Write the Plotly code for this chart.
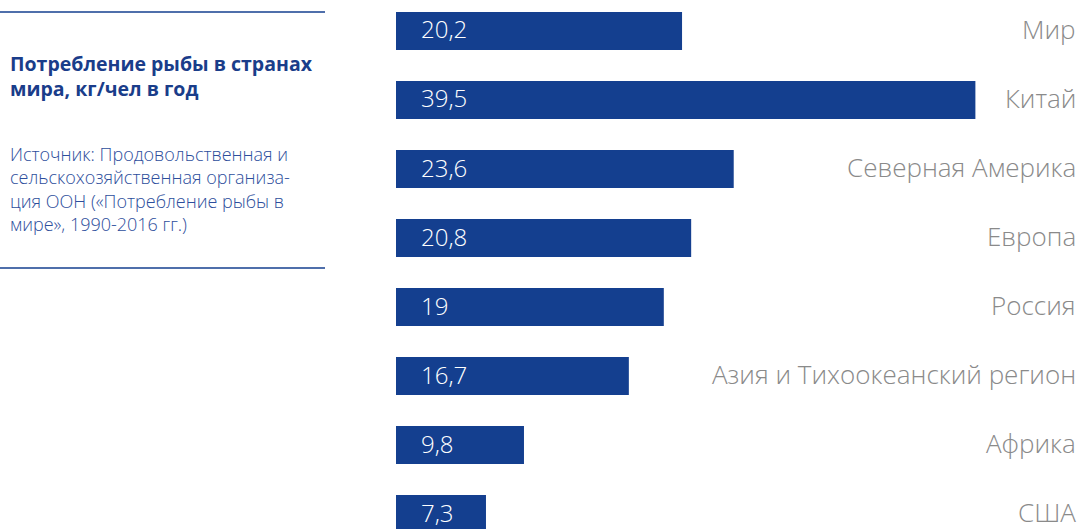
import plotly.graph_objects as go

categories = ["Мир", "Китай", "Северная Америка", "Европа", "Россия",
              "Азия и Тихоокеанский регион", "Африка", "США"]
values = [20.2, 39.5, 23.6, 20.8, 19, 16.7, 9.8, 7.3]
value_labels = ["20,2", "39,5", "23,6", "20,8", "19", "16,7", "9,8", "7,3"]

title_text = "Потребление рыбы в странах<br>мира, кг/чел в год"
source_text = ("Источник: Продовольственная и<br>сельскохозяйственная организа-<br>"
               "ция ООН («Потребление рыбы в<br>мире», 1990-2016 гг.)")

W, H = 1083, 529
BLUE = "#143f8f"
GRAY = "#8a8a8a"
FONT = "Open Sans"

fig = go.Figure()
fig.add_trace(go.Bar(
    x=values, y=categories, orientation="h",
    marker=dict(color=BLUE, line=dict(width=0)),
    width=0.55, hoverinfo="skip",
))

x0 = 396 / W
fig.update_layout(
    width=W, height=H,
    margin=dict(l=0, r=0, t=0, b=0),
    paper_bgcolor="white", plot_bgcolor="white",
    showlegend=False,
    xaxis=dict(domain=[x0, 1], range=[1.38, 46.58], visible=False, fixedrange=True),
    yaxis=dict(domain=[0, 1], type="category", categoryorder="array",
               categoryarray=categories, range=[7.217, -0.449],
               visible=False, fixedrange=True),
    font=dict(family=FONT),
)

anns = []
for c, lab in zip(categories, value_labels):
    anns.append(dict(x=419 / W, xref="paper", y=c, yref="y", text=lab,
                     showarrow=False, xanchor="left", yanchor="middle", yshift=2,
                     font=dict(family=FONT, size=24, color="white", weight=300)))
    anns.append(dict(x=1078 / W, xref="paper", y=c, yref="y", text=c,
                     showarrow=False, xanchor="right", yanchor="middle", yshift=2,
                     font=dict(family=FONT, size=26, color=GRAY, weight=300)))

anns.append(dict(x=8 / W, xref="paper", y=1 - 48 / H, yref="paper", text=title_text,
                 showarrow=False, xanchor="left", yanchor="top", align="left",
                 font=dict(family=FONT, size=19.5, color="#1a3d8a", weight="bold")))
anns.append(dict(x=8 / W, xref="paper", y=1 - 140 / H, yref="paper", text=source_text,
                 showarrow=False, xanchor="left", yanchor="top", align="left",
                 font=dict(family=FONT, size=18, color="#2d4e9c", weight=300)))
fig.update_layout(annotations=anns)

for yy in (12, 268):
    fig.add_shape(type="line", xref="paper", yref="paper",
                  x0=0, x1=325 / W, y0=1 - yy / H, y1=1 - yy / H,
                  line=dict(color=BLUE, width=1.5))

fig.write_html("out.html", config={"displayModeBar": False},
               post_script="document.body.style.margin='0';document.body.style.overflow='hidden';")
